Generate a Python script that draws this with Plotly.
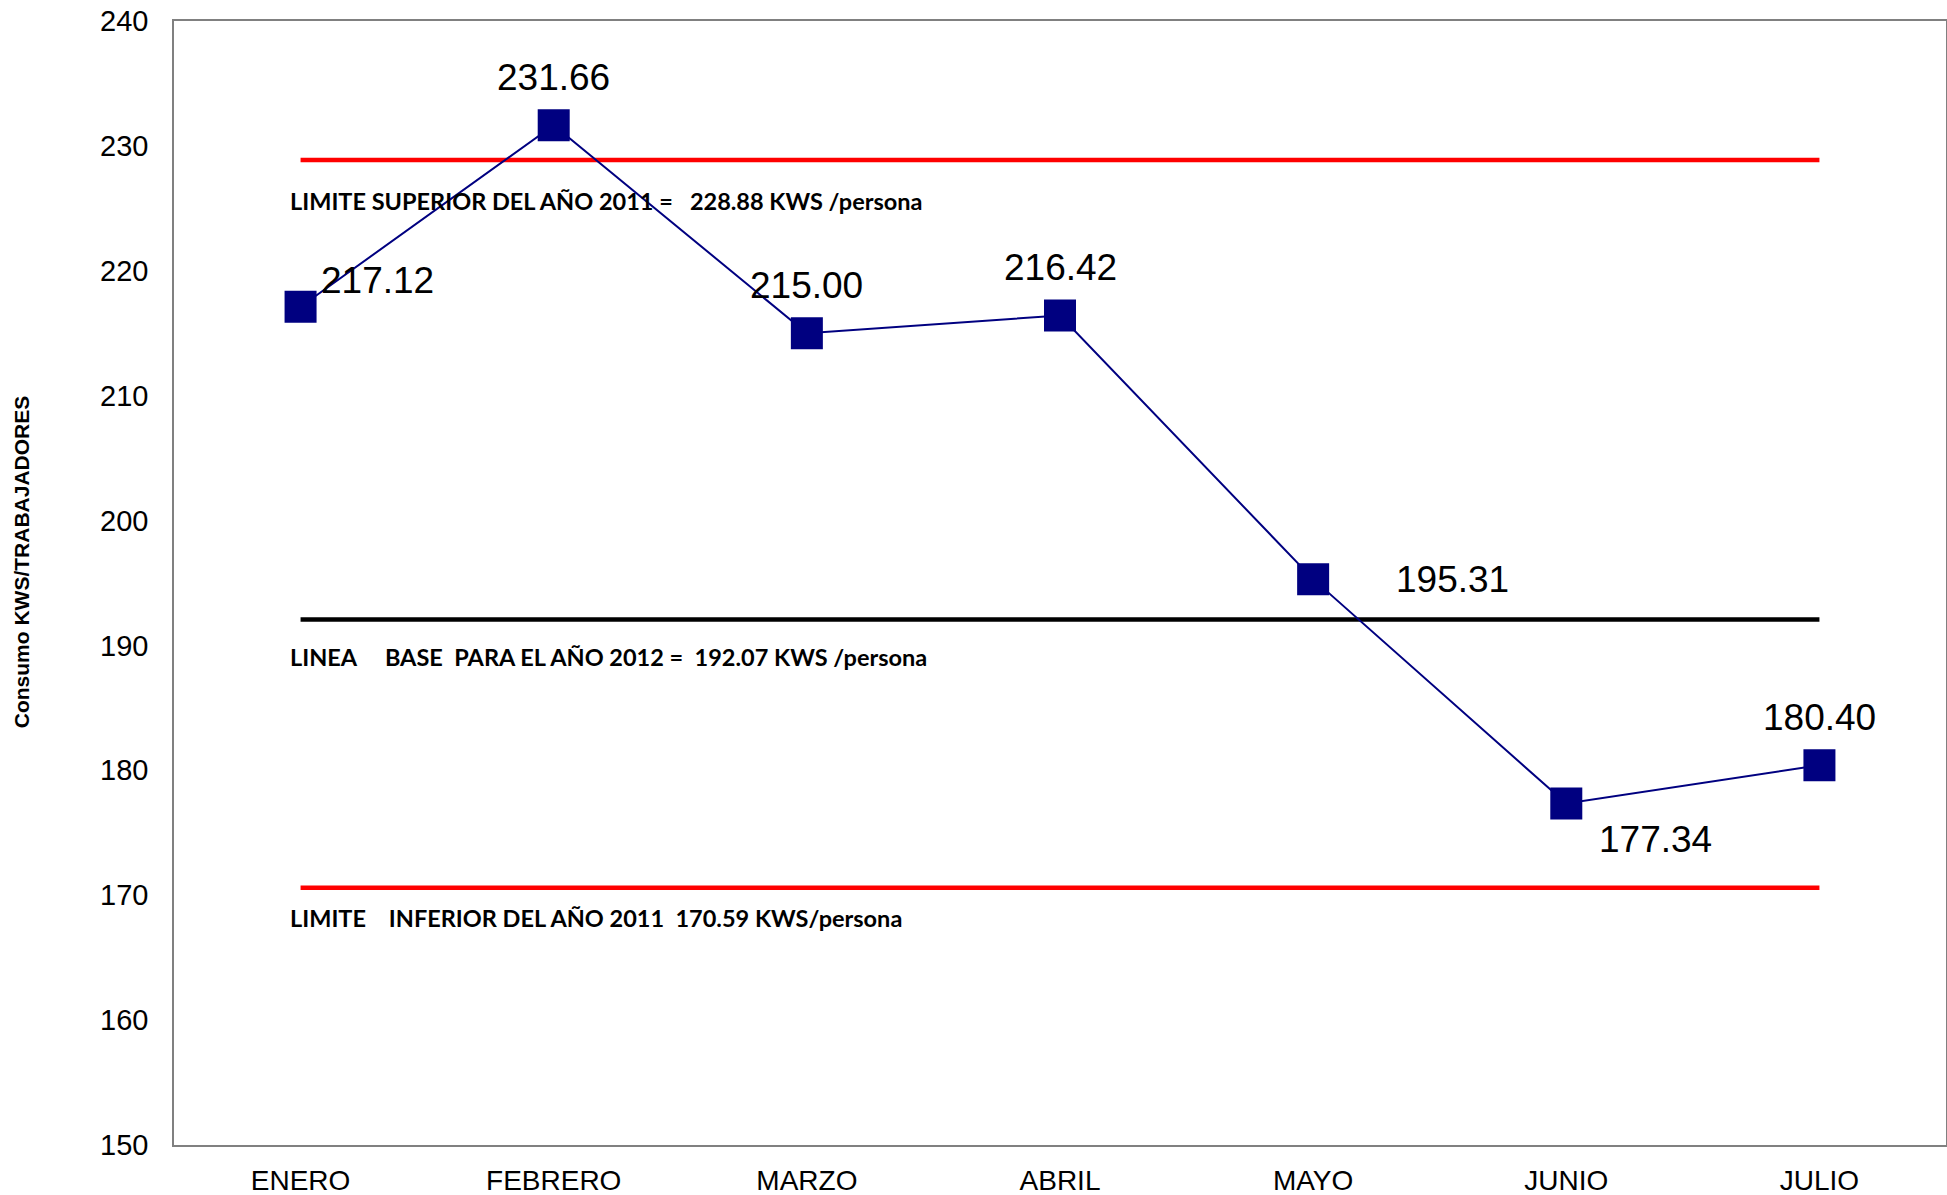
import plotly.graph_objects as go

meses = ["ENERO", "FEBRERO", "MARZO", "ABRIL", "MAYO", "JUNIO", "JULIO"]
consumo = [217.12, 231.66, 215.00, 216.42, 195.31, 177.34, 180.40]

limite_superior = 228.88
linea_base = 192.07
limite_inferior = 170.59

y_ticks = [150, 160, 170, 180, 190, 200, 210, 220, 230, 240]

# label offsets (px) relative to each marker
lbl_dx = [77, 0, 0, 0, 139, 89, 0]
lbl_dy = [26, 48, 48, 48, 0, -36, 48]

_NUM = "Liberation Sans, Arial, sans-serif"
_NOTE = "Lato, 'Open Sans', sans-serif"
_NAVY = "#000080"

fig = go.Figure()

for val, col, w in [(limite_superior, "#ff0000", 4.5),
                    (linea_base, "#000000", 4.5),
                    (limite_inferior, "#ff0000", 4.5)]:
    fig.add_trace(go.Scatter(
        x=[meses[0], meses[-1]], y=[val, val], mode="lines",
        line=dict(color=col, width=w), showlegend=False, hoverinfo="skip",
    ))

fig.add_trace(go.Scatter(
    x=meses, y=consumo, mode="lines+markers",
    line=dict(color=_NAVY, width=2),
    marker=dict(symbol="square", size=32, color=_NAVY),
    showlegend=False,
))

for i, (m, v) in enumerate(zip(meses, consumo)):
    fig.add_annotation(
        x=m, y=v, text=f"{v:.2f}", showarrow=False,
        xshift=lbl_dx[i], yshift=lbl_dy[i],
        font=dict(family=_NUM, size=37, color="#000000"),
    )

notes = [
    (225.6, "LIMITE SUPERIOR DEL AÑO 2011 =   228.88 KWS /persona"),
    (189.1, "LINEA     BASE  PARA EL AÑO 2012 =  192.07 KWS /persona"),
    (168.2, "LIMITE    INFERIOR DEL AÑO 2011  170.59 KWS/persona"),
]
for yv, txt in notes:
    fig.add_annotation(
        x=-0.05, y=yv, xref="x", yref="y", text=f"<b>{txt.replace(' ', '&nbsp;')}</b>",
        showarrow=False, xanchor="left",
        font=dict(family=_NOTE, size=23.5, color="#000000"),
    )

# y-axis title placed by hand so it does not push the plot area
fig.add_annotation(
    x=-0.086, y=0.519, xref="paper", yref="paper",
    xanchor="center", yanchor="middle",
    text="<b>Consumo KWS/TRABAJADORES</b>", textangle=-90, showarrow=False,
    font=dict(family=_NUM, size=21, color="#000000"),
)

fig.update_layout(
    width=1947, height=1195,
    paper_bgcolor="white", plot_bgcolor="white",
    margin=dict(l=174, r=1, t=21, b=50),
    showlegend=False,
    xaxis=dict(
        type="category", categoryorder="array", categoryarray=meses,
        range=[-0.5, 6.5], automargin=False,
        showgrid=False, zeroline=False, ticks="",
        showline=True, mirror=True, linecolor="#808080", linewidth=1.5,
        tickfont=dict(family=_NUM, size=28, color="#000000"),
        ticklabelstandoff=10,
    ),
    yaxis=dict(
        range=[150, 240], tickvals=y_ticks, automargin=False,
        showgrid=False, zeroline=False, ticks="",
        showline=True, mirror=True, linecolor="#808080", linewidth=1.5,
        tickfont=dict(family=_NUM, size=29, color="#000000"),
        ticklabelstandoff=18,
    ),
)

fig.write_html("out.html", config={"displayModeBar": False},
               post_script="document.body.style.margin='0px';")
